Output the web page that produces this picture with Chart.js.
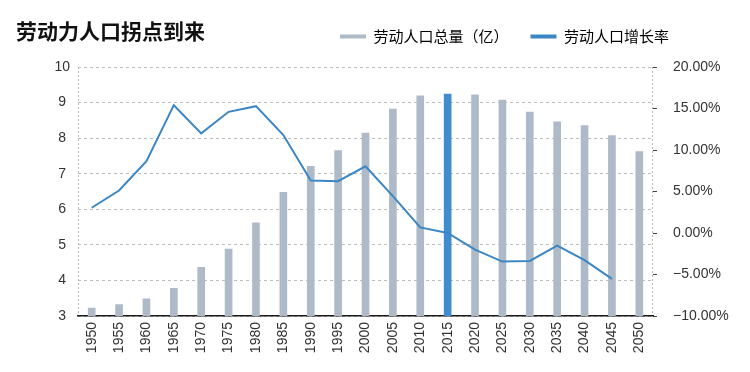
<!DOCTYPE html>
<html>
<head>
<meta charset="utf-8">
<script src="https://cdn.jsdelivr.net/npm/chart.js@4/dist/chart.umd.min.js"></script>
<style>
  html, body { margin: 0; padding: 0; background: #ffffff; }
  #wrap { width: 750px; height: 372px; }
</style>
</head>
<body>
<div id="wrap"><canvas id="c" width="750" height="372"></canvas></div>
<script>
const titleText = '劳动力人口拐点到来';
const years = ['1950','1955','1960','1965','1970','1975','1980','1985','1990','1995','2000','2005','2010','2015','2020','2025','2030','2035','2040','2045','2050'];
const laborTotal = [3.22,3.32,3.48,3.78,4.37,4.88,5.62,6.48,7.21,7.65,8.14,8.82,9.19,9.24,9.22,9.07,8.73,8.46,8.35,8.07,7.62];
const laborGrowth = [3.04,5.12,8.64,15.4,12.0,14.6,15.28,11.8,6.32,6.24,8.04,4.44,0.68,0.0,-2.0,-3.44,-3.36,-1.52,-3.28,-5.52,null];
const totalLabel = '劳动人口总量（亿）';
const growthLabel = '劳动人口增长率';
const highlightYear = '2015';
const leftTicks = [3, 10, 1];     // min, max, step
const rightTicks = [-10, 20, 5];  // min, max, step

const GRAY = '#aebac7';
const BLUE_BAR = '#418bcf';
const BLUE_LINE = '#3b86c5';
const FONT = "'Liberation Sans', 'Noto Sans CJK SC', sans-serif";
const CJK = "'Noto Sans CJK SC', sans-serif";

// Title and legend share one row in the reference: place them after layout.
const headerPlacer = {
  id: 'headerPlacer',
  afterLayout(chart) {
    const t = chart.titleBlock;
    if (t) {
      const h = t.height;
      t.top = 0; t.bottom = h;
    }
    const lg = chart.legend;
    if (lg) {
      const w = lg.width, h = lg.height;
      lg.left = 318; lg.right = 318 + w;
      lg.top = 7; lg.bottom = 7 + h;
    }
  }
};

new Chart(document.getElementById('c'), {
  type: 'bar',
  data: {
    labels: years,
    datasets: [
      {
        type: 'line',
        label: growthLabel,
        data: laborGrowth,
        yAxisID: 'y1',
        borderColor: BLUE_LINE,
        backgroundColor: BLUE_LINE,
        borderWidth: 2,
        pointRadius: 0,
        tension: 0,
        order: 0
      },
      {
        type: 'bar',
        label: totalLabel,
        data: laborTotal,
        yAxisID: 'y',
        backgroundColor: (c) => (c.dataIndex !== undefined && years[c.dataIndex] === highlightYear) ? BLUE_BAR : GRAY,
        barThickness: 7,
        order: 1
      }
    ]
  },
  options: {
    responsive: false,
    devicePixelRatio: 1,
    animation: false,
    layout: { padding: { left: 16, right: 0, top: -46, bottom: 0 } },
    plugins: {
      tooltip: { enabled: false },
      title: {
        display: true,
        text: titleText,
        align: 'start',
        color: '#111',
        font: { family: CJK, size: 21, weight: 'bold' },
        padding: { top: 18, bottom: 22.8 }
      },
      legend: {
        display: true,
        position: 'top',
        align: 'start',
        labels: {
          boxWidth: 26,
          boxHeight: 4,
          padding: 22,
          color: '#444',
          font: { family: CJK, size: 15 },
          generateLabels: () => [
            { text: totalLabel, fillStyle: GRAY, strokeStyle: GRAY, lineWidth: 0, hidden: false, datasetIndex: 1 },
            { text: growthLabel, fillStyle: BLUE_LINE, strokeStyle: BLUE_LINE, lineWidth: 0, hidden: false, datasetIndex: 0 }
          ]
        }
      }
    },
    scales: {
      x: {
        offset: true,
        grid: {
          display: true,
          drawTicks: false,
          offset: true,
          lineWidth: 1,
          color: (c) => (c.index === 0 || c.type === 'scale') ? '#b8b8b8' : 'rgba(0,0,0,0)'
        },
        border: { display: true, color: '#1a1a1a', width: 1.5, dash: [2, 2] },
        ticks: {
          minRotation: 90,
          maxRotation: 90,
          autoSkip: false,
          padding: 6,
          color: '#333',
          font: { family: FONT, size: 14 }
        },
        afterFit: (s) => { s.height = 56; }
      },
      y: {
        position: 'left',
        min: leftTicks[0],
        max: leftTicks[1],
        grid: { color: '#bdbdbd', lineWidth: 1, drawTicks: false },
        border: { display: false, dash: [3, 3] },
        ticks: {
          stepSize: leftTicks[2],
          crossAlign: 'center',
          padding: 8,
          color: '#333',
          font: { family: FONT, size: 14 }
        },
        afterFit: (s) => { s.width = 62; }
      },
      y1: {
        position: 'right',
        min: rightTicks[0],
        max: rightTicks[1],
        grid: { drawOnChartArea: false, drawTicks: true, tickLength: 4, tickColor: '#444', tickWidth: 1, color: '#bdbdbd' },
        border: { display: false },
        ticks: {
          stepSize: rightTicks[2],
          padding: 16,
          color: '#333',
          font: { family: FONT, size: 14 },
          callback: (v) => (v < 0 ? '\u2212' : '') + Math.abs(v).toFixed(2) + '%'
        },
        afterFit: (s) => { s.width = 97; }
      }
    }
  },
  plugins: [headerPlacer]
});
</script>
</body>
</html>
